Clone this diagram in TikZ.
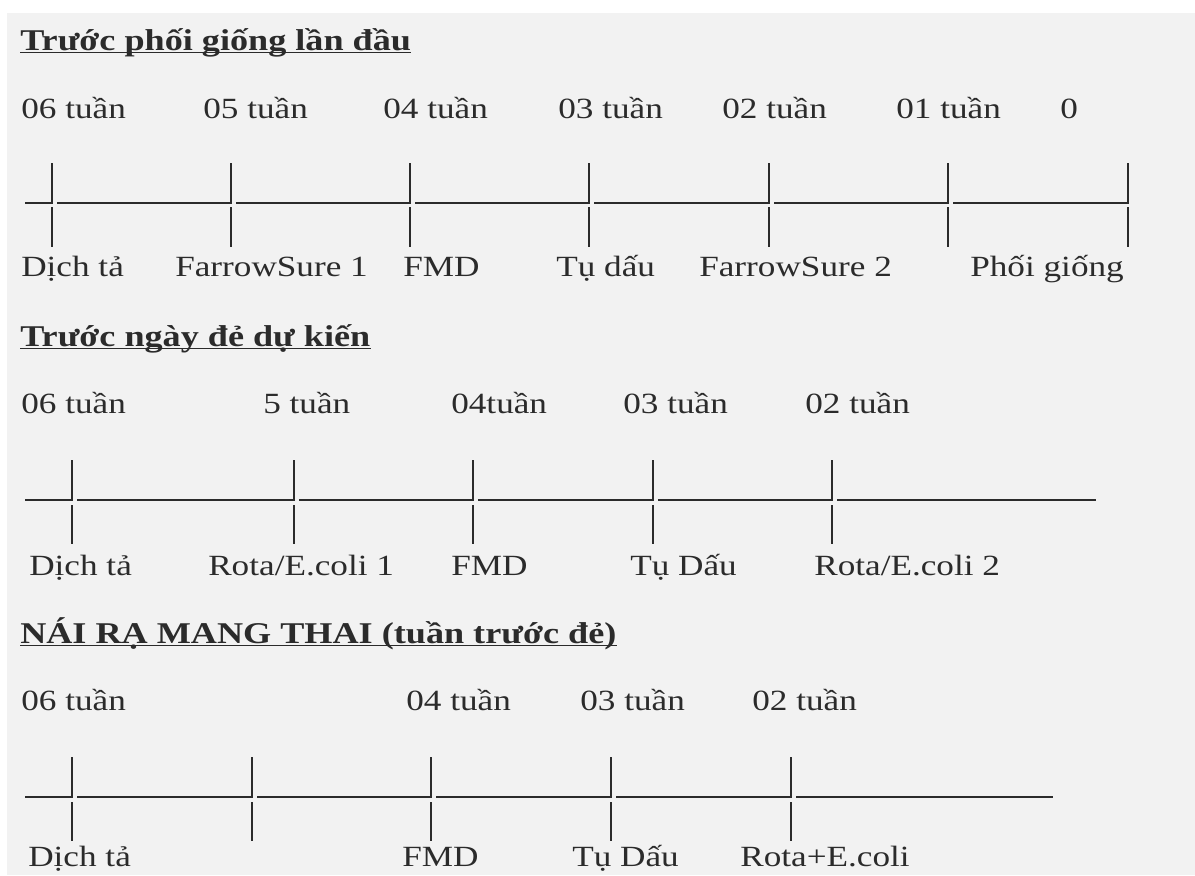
\documentclass[tikz,border=0pt]{standalone}
\usepackage{fontspec}
\setmainfont{Liberation Serif}[FakeStretch=1.2]
\definecolor{paper}{HTML}{F2F2F2}
\definecolor{ink}{HTML}{2B2B2B}
\tikzset{
  lbl/.style={anchor=base west, inner sep=0pt, text=ink, font=\fontsize{22}{26}\selectfont},
  ttl/.style={lbl, font=\fontsize{22.6}{27}\selectfont\bfseries},
  tline/.style={draw=ink, line width=1.4pt}
}
\begin{document}
\begin{tikzpicture}[x=0.75pt,y=-0.75pt]
    % Page
    \useasboundingbox (0,0) rectangle (1195,875);
    \fill[paper] (7,13) rectangle (1195,875);

    % Truoc phoi giong lan dau
    \node[ttl] (t1) at (20,50) {Trước phối giống lần đầu};
    \draw[ink, line width=1.1pt] ([yshift=-2pt]t1.base west) -- ([yshift=-2pt]t1.base east);
    \node[lbl] (w1a) at (21,118) {06 tuần};
    \node[lbl] (w1b) at (203,118) {05 tuần};
    \node[lbl] (w1c) at (383,118) {04 tuần};
    \node[lbl] (w1d) at (558,118) {03 tuần};
    \node[lbl] (w1e) at (722,118) {02 tuần};
    \node[lbl] (w1f) at (896,118) {01 tuần};
    \node[lbl] (w1g) at (1060,118) {0};
    \draw[tline] (25,203) -- (52,203) -- (52,163)
        (57,203) -- (231,203) -- (231,163)
        (236,203) -- (410,203) -- (410,163)
        (415,203) -- (589,203) -- (589,163)
        (594,203) -- (769,203) -- (769,163)
        (774,203) -- (948,203) -- (948,163)
        (953,203) -- (1128,203) -- (1128,163);
    \draw[tline] (52,207) -- (52,247) (231,207) -- (231,247) (410,207) -- (410,247)
        (589,207) -- (589,247) (769,207) -- (769,247) (948,207) -- (948,247)
        (1128,207) -- (1128,247);
    \node[lbl] (v1a) at (21,276) {Dịch tả};
    \node[lbl] (v1b) at (175,276) {FarrowSure 1};
    \node[lbl] (v1c) at (403,276) {FMD};
    \node[lbl] (v1d) at (556,276) {Tụ dấu};
    \node[lbl] (v1e) at (699,276) {FarrowSure 2};
    \node[lbl] (v1f) at (970,276) {Phối giống};

    % Truoc ngay de du kien
    \node[ttl] (t2) at (20,346) {Trước ngày đẻ dự kiến};
    \draw[ink, line width=1.1pt] ([yshift=-2pt]t2.base west) -- ([yshift=-2pt]t2.base east);
    \node[lbl] (w2a) at (21,413) {06 tuần};
    \node[lbl] (w2b) at (263,413) {5 tuần};
    \node[lbl] (w2c) at (451,413) {04tuần};
    \node[lbl] (w2d) at (623,413) {03 tuần};
    \node[lbl] (w2e) at (805,413) {02 tuần};
    \draw[tline] (25,500) -- (72,500) -- (72,460)
        (77,500) -- (294,500) -- (294,460)
        (299,500) -- (473,500) -- (473,460)
        (478,500) -- (653,500) -- (653,460)
        (658,500) -- (832,500) -- (832,460)
        (837,500) -- (1096,500);
    \draw[tline] (72,505) -- (72,544) (294,505) -- (294,544) (473,505) -- (473,544)
        (653,505) -- (653,544) (832,505) -- (832,544);
    \node[lbl] (v2a) at (29,575) {Dịch tả};
    \node[lbl] (v2b) at (208,575) {Rota/E.coli 1};
    \node[lbl] (v2c) at (451,575) {FMD};
    \node[lbl] (v2d) at (630,575) {Tụ Dấu};
    \node[lbl] (v2e) at (814,575) {Rota/E.coli 2};

    % Nai ra mang thai
    \node[ttl] (t3) at (20,643) {NÁI RẠ MANG THAI (tuần trước đẻ)};
    \draw[ink, line width=1.1pt] ([yshift=-2pt]t3.base west) -- ([yshift=-2pt]t3.base east);
    \node[lbl] (w3a) at (21,710) {06 tuần};
    \node[lbl] (w3b) at (406,710) {04 tuần};
    \node[lbl] (w3c) at (580,710) {03 tuần};
    \node[lbl] (w3d) at (752,710) {02 tuần};
    \draw[tline] (25,797) -- (72,797) -- (72,757)
        (77,797) -- (252,797) -- (252,757)
        (257,797) -- (431,797) -- (431,757)
        (436,797) -- (611,797) -- (611,757)
        (616,797) -- (791,797) -- (791,757)
        (796,797) -- (1053,797);
    \draw[tline] (72,802) -- (72,841) (252,802) -- (252,841) (431,802) -- (431,841)
        (611,802) -- (611,841) (791,802) -- (791,841);
    \node[lbl] (v3a) at (28,866) {Dịch tả};
    \node[lbl] (v3b) at (402,866) {FMD};
    \node[lbl] (v3c) at (572,866) {Tụ Dấu};
    \node[lbl] (v3d) at (740,866) {Rota+E.coli};
\end{tikzpicture}
\end{document}
